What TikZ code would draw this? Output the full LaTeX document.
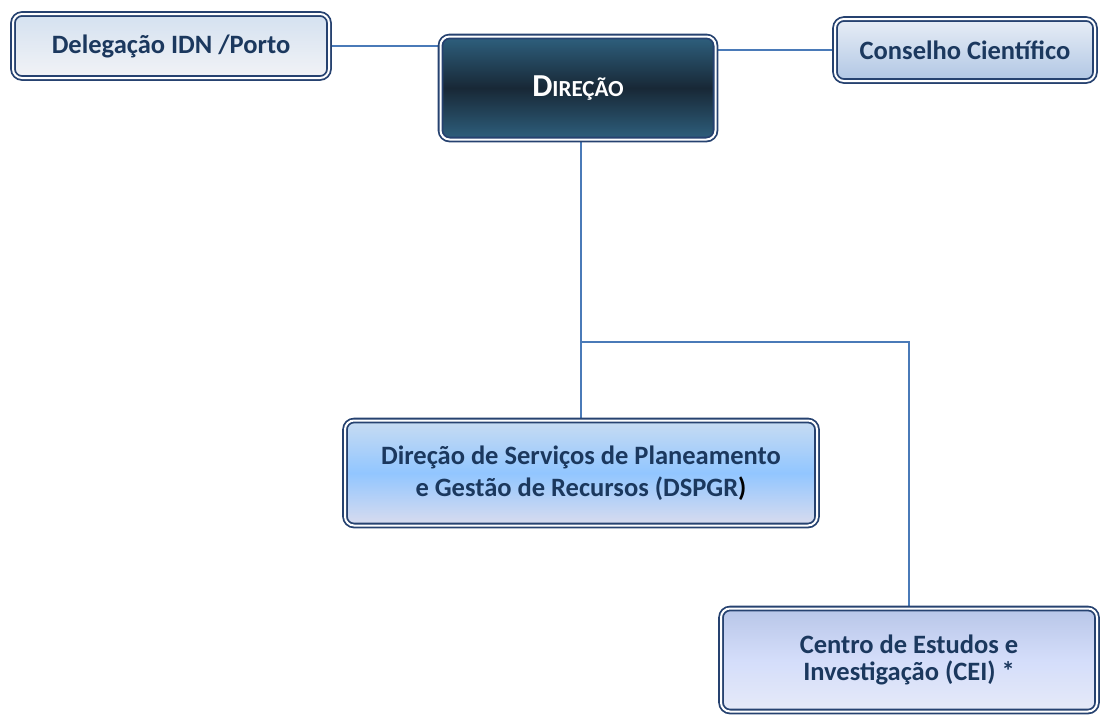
\documentclass[tikz,border=0pt]{standalone}
\usepackage{fontspec}
\setmainfont{Carlito}
\usetikzlibrary{backgrounds}
\definecolor{boxline}{RGB}{38,66,112}
\definecolor{boxtext}{RGB}{27,56,94}
\definecolor{linkblue}{RGB}{74,122,184}
\begin{document}
\begin{tikzpicture}[
    x=1pt, y=-1pt,
    box/.style ={
        draw=boxline,
        double=white,
        double distance=2pt,
        line width=1.8pt,
        rounded corners=9pt,
        font=\bfseries\fontsize{26.5}{32}\selectfont,
        text=boxtext,
        align=center,
        inner sep=0pt
    },
    link/.style ={
        draw=linkblue,
        line width=1.5pt
    }
    ]
    \useasboundingbox (0,0) rectangle (1100,715);

    \node[box, minimum width=316, minimum height=64,
        top color={rgb,255:red,212;green,225;blue,240}, bottom color={rgb,255:red,242;green,243;blue,246}]
        (deleg) at (171,46) {Delegação IDN /Porto};
    \node[box, minimum width=275, minimum height=103, text=white,
        font=\bfseries\fontsize{32}{38}\selectfont,
        top color={rgb,255:red,46;green,96;blue,126}, bottom color={rgb,255:red,46;green,96;blue,126},
        middle color={rgb,255:red,24;green,40;blue,54}]
        (dir) at (578,88) {D\fontsize{23}{28}\selectfont IREÇÃO};
    \node[box, minimum width=260, minimum height=62,
        top color={rgb,255:red,232;green,238;blue,246}, bottom color={rgb,255:red,176;green,198;blue,228}]
        (cons) at (965,50) {Conselho Científico};
    \node[box, minimum width=472, minimum height=105,
        top color={rgb,255:red,200;green,220;blue,242}, bottom color={rgb,255:red,218;green,220;blue,238},
        middle color={rgb,255:red,146;green,198;blue,255}]
        (dspgr) at (581,473) {Direção de Serviços de Planeamento\\e Gestão de Recursos (DSPGR{\color{black})}};
    \node[box, minimum width=376, minimum height=103,
        font=\bfseries\fontsize{26.5}{27}\selectfont,
        top color={rgb,255:red,184;green,198;blue,232}, bottom color={rgb,255:red,230;green,234;blue,248},
        middle color={rgb,255:red,212;green,221;blue,250}]
        (cei) at (909,660) {Centro de Estudos e\\Investigação (CEI) *};

    \coordinate (split) at (581,342);

    \begin{scope}[on background layer]
        \draw[link] (deleg.east) -- (deleg.east -| dir.west);
        \draw[link] (dir.east |- cons.west) -- (cons.west);
        \draw[link] (dspgr.north |- dir.south) -- (dspgr.north);
        \draw[link] (split) -| (cei.north);
    \end{scope}
\end{tikzpicture}
\end{document}
